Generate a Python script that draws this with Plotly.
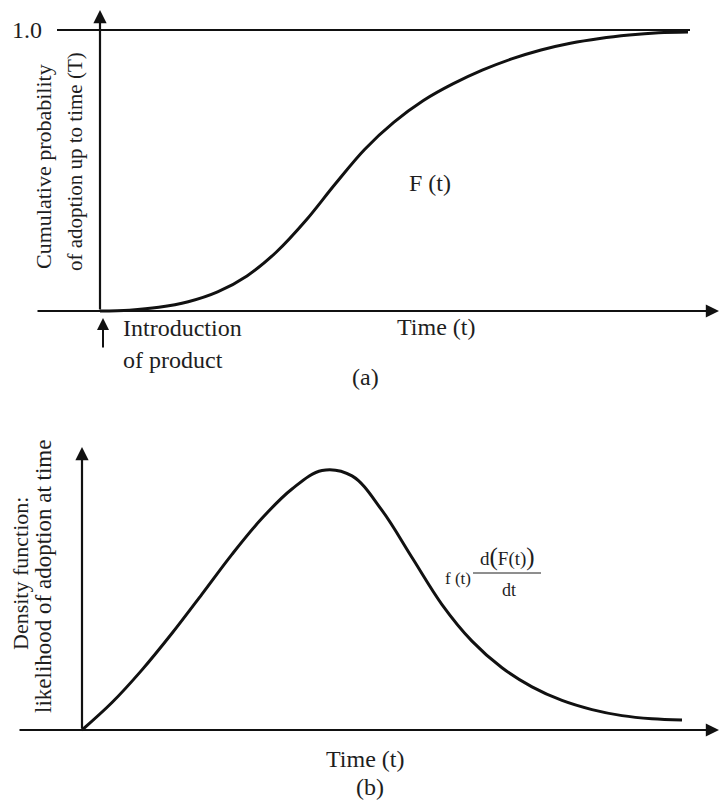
import plotly.graph_objects as go

# ---------------- Data ----------------
# Panel (a): cumulative probability of adoption F(t)
t_a = [0.0, 0.5, 1.0, 1.5, 2.0, 2.5, 3.0, 3.5, 4.0, 4.5, 5.0,
       5.5, 6.0, 6.5, 7.0, 7.5, 8.0, 8.5, 9.0, 9.5, 10.0]
F_a = [0.0, 0.003, 0.013, 0.033, 0.068, 0.125, 0.21, 0.322, 0.452, 0.575, 0.672,
       0.749, 0.808, 0.857, 0.897, 0.929, 0.953, 0.97, 0.982, 0.99, 0.993]

# Panel (b): density function f(t)
t_b = [0.0, 0.5, 1.0, 1.5, 2.0, 2.5, 3.0, 3.5, 4.0, 4.5, 5.0,
       5.5, 6.0, 6.5, 7.0, 7.5, 8.0, 8.5, 9.0, 9.5, 10.0]
f_b = [0.0, 0.105, 0.23, 0.37, 0.52, 0.672, 0.81, 0.922, 0.993, 0.972, 0.84,
       0.66, 0.48, 0.34, 0.238, 0.165, 0.113, 0.078, 0.055, 0.043, 0.038]

FONT = "Liberation Serif"
TXT = "#1e1e1e"
LINE = "#111111"
FS = 24

fig = go.Figure()
fig.add_trace(go.Scatter(x=t_a, y=F_a, mode="lines", xaxis="x", yaxis="y",
                         line=dict(color=LINE, width=3, shape="spline", smoothing=1.0),
                         hoverinfo="skip", showlegend=False))
fig.add_trace(go.Scatter(x=t_b, y=f_b, mode="lines", xaxis="x2", yaxis="y2",
                         line=dict(color=LINE, width=3, shape="spline", smoothing=1.0),
                         hoverinfo="skip", showlegend=False))

W, H = 720, 802
# pixel-to-data helpers for layout placement
ax_x0, ax_k = 100, 58.8      # panel (a) t=0 at px 100
ay_0, ay_k = 311, 281        # panel (a) F=0 at py 311, F=1 at py 30
bx_x0, bx_k = 82, 60         # panel (b)
by_0, by_k = 730, 261.4


def ta(px):
    return (px - ax_x0) / ax_k


def Fa(py):
    return (ay_0 - py) / ay_k


def tb(px):
    return (px - bx_x0) / bx_k


def fb(py):
    return (by_0 - py) / by_k


hidden = dict(visible=False, showgrid=False, zeroline=False, fixedrange=True)
fig.update_layout(
    width=W, height=H,
    margin=dict(l=0, r=0, t=0, b=0),
    paper_bgcolor="white", plot_bgcolor="white",
    xaxis=dict(domain=[0, 1], range=[ta(0), ta(W)], anchor="y", **hidden),
    yaxis=dict(domain=[1 - 400 / H, 1], range=[Fa(400), Fa(0)], anchor="x", **hidden),
    xaxis2=dict(domain=[0, 1], range=[tb(0), tb(W)], anchor="y2", **hidden),
    yaxis2=dict(domain=[0, 1 - 400 / H], range=[fb(H), fb(400)], anchor="x2", **hidden),
    showlegend=False,
)

shapes = []
# top reference line at 1.0
shapes.append(dict(type="line", xref="x", yref="y", x0=ta(57), x1=ta(690), y0=1.0, y1=1.0,
                   line=dict(color=LINE, width=2.2)))
# fraction bar in formula
shapes.append(dict(type="line", xref="x2", yref="y2", x0=tb(473), x1=tb(541),
                   y0=fb(573), y1=fb(573), line=dict(color=TXT, width=1)))
fig.update_layout(shapes=shapes)

ann = []


def arrow(xr, yr, x, y, axv, ayv, w=2.2):
    ann.append(dict(xref=xr, yref=yr, axref=xr, ayref=yr, x=x, y=y, ax=axv, ay=ayv,
                    showarrow=True, arrowhead=2, arrowsize=1.2, arrowwidth=w,
                    arrowcolor=LINE, text="", standoff=0, startstandoff=0))


def label(xr, yr, x, y, text, size=FS, xanchor="center", angle=0):
    ann.append(dict(xref=xr, yref=yr, x=x, y=y, text=text, showarrow=False,
                    xanchor=xanchor, yanchor="middle", textangle=angle,
                    font=dict(family=FONT, size=size, color=TXT)))


# Panel (a)
arrow("x", "y", 0, Fa(10), 0, 0)
arrow("x", "y", ta(719), 0, ta(36), 0)
arrow("x", "y", ta(103), Fa(318), ta(103), Fa(349), w=2)
label("x", "y", ta(44), 1.0, "1.0", xanchor="right")
label("x", "y", ta(43), Fa(167), "Cumulative probability", size=22, angle=-90)
label("x", "y", ta(75), Fa(162), "of adoption up to time (T)", size=21, angle=-90)
label("x", "y", ta(121), Fa(328), "Introduction", xanchor="left")
label("x", "y", ta(121), Fa(360), "of product", xanchor="left")
label("x", "y", ta(436), Fa(327), "Time (t)")
label("x", "y", ta(430), Fa(183), "F (t)")
label("x", "y", ta(365), Fa(377), "(a)")

# Panel (b)
arrow("x2", "y2", 0, fb(447), 0, 0)
arrow("x2", "y2", tb(719), 0, tb(18), 0)
label("x2", "y2", tb(20), fb(574), "Density function:", size=22, angle=-90)
label("x2", "y2", tb(43), fb(577), "likelihood of adoption at time", size=23, angle=-90)
label("x2", "y2", tb(458), fb(578), "f (t)", size=17)
label("x2", "y2", tb(507), fb(557),
      "d<span style='font-size:25px'>(</span>F(t)<span style='font-size:25px'>)</span>", size=19)
label("x2", "y2", tb(509), fb(590), "dt", size=18)
label("x2", "y2", tb(365), fb(759), "Time (t)")
label("x2", "y2", tb(370), fb(787), "(b)")

fig.update_layout(annotations=ann)

fig.write_html("out.html", config=dict(displayModeBar=False, staticPlot=True))
